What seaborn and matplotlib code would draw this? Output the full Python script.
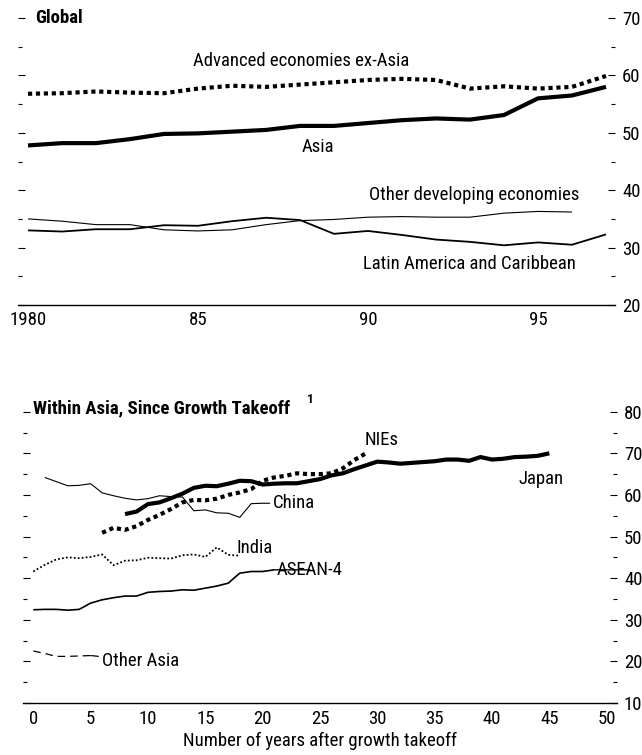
import matplotlib
matplotlib.use("Agg")
import matplotlib.pyplot as plt
import seaborn as sns
import pandas as pd
from matplotlib.ticker import MultipleLocator, FixedLocator, FixedFormatter

# ---------------- data: Global panel ----------------
years = list(range(1980, 1998))
advanced_ex_asia = [56.8, 56.9, 57.2, 57.0, 56.9, 57.7, 58.2, 58.0, 58.4, 58.8,
                    59.2, 59.4, 59.2, 57.7, 58.1, 57.7, 58.0, 59.9]
asia = [47.8, 48.2, 48.2, 48.9, 49.8, 49.9, 50.2, 50.5, 51.2, 51.2,
        51.7, 52.2, 52.5, 52.3, 53.1, 56.0, 56.5, 58.0]
other_dev_years = list(range(1980, 1997))
other_developing = [35.0, 34.6, 34.0, 34.0, 33.1, 32.9, 33.1, 34.0, 34.7, 34.9,
                    35.3, 35.4, 35.3, 35.3, 36.0, 36.3, 36.2]
latin_america = [33.0, 32.8, 33.2, 33.2, 33.9, 33.8, 34.6, 35.2, 34.8, 32.4,
                 32.9, 32.2, 31.4, 31.0, 30.4, 30.9, 30.5, 32.3]
top_xticks = [1980, 1985, 1990, 1995]
top_xticklabels = ["1980", "85", "90", "95"]

# ---------------- data: Within Asia panel ----------------
japan_t = list(range(8, 46))
japan = [55.4, 56.0, 57.8, 58.2, 59.2, 60.3, 61.7, 62.2, 62.1, 62.7,
         63.4, 63.3, 62.5, 62.7, 62.8, 62.8, 63.3, 63.8, 64.7, 65.2,
         66.2, 67.1, 68.0, 67.8, 67.5, 67.7, 67.9, 68.1, 68.5, 68.5,
         68.2, 69.1, 68.5, 68.7, 69.1, 69.2, 69.4, 70.0]
nies_t = list(range(6, 30))
nies = [50.9, 52.1, 51.6, 52.5, 54.0, 55.2, 56.6, 58.2, 58.8, 58.7,
        59.1, 60.0, 60.6, 61.4, 63.4, 64.2, 64.6, 65.2, 65.0, 65.0,
        65.2, 66.4, 68.4, 70.0]
china_t = list(range(1, 21))
china = [64.2, 63.2, 62.2, 62.3, 62.7, 60.5, 59.8, 59.2, 58.8, 59.1,
         59.8, 59.6, 59.5, 56.2, 56.4, 55.7, 55.6, 54.6, 57.9, 58.0]
india_t = list(range(0, 19))
india = [41.6, 43.2, 44.5, 45.0, 44.8, 45.1, 45.7, 43.1, 44.2, 44.3,
         44.9, 44.8, 44.7, 45.5, 45.7, 45.1, 47.4, 45.6, 45.4]
asean_t = list(range(0, 22))
asean4 = [32.4, 32.5, 32.5, 32.3, 32.5, 34.0, 34.8, 35.3, 35.7, 35.7,
          36.6, 36.8, 36.9, 37.2, 37.1, 37.6, 38.1, 38.8, 41.2, 41.6,
          41.6, 42.0]
other_asia_t = list(range(0, 6))
other_asia = [22.5, 21.9, 21.2, 21.2, 21.3, 21.4]

# ---------------- style ----------------
sns.set_theme(style="white")
plt.rcParams["font.family"] = ["Roboto Condensed", "Archivo Narrow", "DejaVu Sans"]
plt.rcParams["text.color"] = "black"
plt.rcParams["axes.labelcolor"] = "black"
plt.rcParams["xtick.color"] = "black"
plt.rcParams["ytick.color"] = "black"
FS = 13.5

fig = plt.figure(figsize=(6.42, 7.55), dpi=100)
ax1 = fig.add_axes([18 / 642, 1 - 305 / 755, 597 / 642, 287 / 755])
ax2 = fig.add_axes([23 / 642, 1 - 703 / 755, 594 / 642, 291.3 / 755])


def style_axes(ax):
    for s in ["left", "right", "top"]:
        ax.spines[s].set_visible(False)
    ax.spines["bottom"].set_color("black")
    ax.spines["bottom"].set_linewidth(1.0)
    ax.tick_params(axis="both", which="both", direction="in", color="black",
                   labelcolor="black", labelsize=FS, width=0.8)
    ax.tick_params(axis="y", which="both", left=True, right=True,
                   labelleft=False, labelright=True, pad=5)
    ax.tick_params(axis="y", which="major", length=5)
    ax.tick_params(axis="y", which="minor", length=3)
    ax.tick_params(axis="x", which="major", length=5, pad=4.5)
    ax.tick_params(axis="x", which="minor", length=3)
    ax.set_facecolor("white")
    ax.grid(False)
    ax.set_xlabel("")
    ax.set_ylabel("")


def line(ax, x, y, lw, dashes=None):
    df = pd.DataFrame({"x": x, "y": y})
    sns.lineplot(data=df, x="x", y="y", ax=ax, color="black", linewidth=lw,
                 legend=False)
    ln = ax.lines[-1]
    if dashes is not None:
        ln.set_dashes(dashes)
        ln.set_dash_capstyle("butt")
    ln.set_solid_capstyle("butt")
    return ln


# ---------------- top panel ----------------
line(ax1, years, advanced_ex_asia, 3.0, dashes=(1.0, 0.9))
line(ax1, years, asia, 3.0)
line(ax1, other_dev_years, other_developing, 0.8)
line(ax1, years, latin_america, 1.3)

ax1.set_xlim(1979.706, 1997.265)
ax1.set_ylim(20, 70)
ax1.yaxis.set_major_locator(MultipleLocator(10))
ax1.yaxis.set_minor_locator(MultipleLocator(5))
ax1.xaxis.set_major_locator(FixedLocator(top_xticks))
ax1.xaxis.set_major_formatter(FixedFormatter(top_xticklabels))
ax1.xaxis.set_minor_locator(MultipleLocator(1))
style_axes(ax1)

ax1.text(0.028, 1.0, "Global", transform=ax1.transAxes, ha="left", va="center",
         fontsize=FS, fontweight="bold")
ax1.text(1984.85, 62.5, "Advanced economies ex-Asia", ha="left", va="center", fontsize=FS)
ax1.text(1988.06, 47.5, "Asia", ha="left", va="center", fontsize=FS)
ax1.text(1990.03, 39.1, "Other developing economies", ha="left", va="center", fontsize=FS)
ax1.text(1989.85, 27.2, "Latin America and Caribbean", ha="left", va="center", fontsize=FS)

# ---------------- bottom panel ----------------
line(ax2, japan_t, japan, 3.0)
line(ax2, nies_t, nies, 3.0, dashes=(1.0, 0.9))
line(ax2, china_t, china, 0.8)
line(ax2, india_t, india, 1.3, dashes=(1.0, 1.2))
line(ax2, asean_t, asean4, 1.2)
line(ax2, other_asia_t, other_asia, 0.9, dashes=(6, 4))

ax2.set_xlim(-0.9, 50.9)
ax2.set_ylim(10, 80)
ax2.yaxis.set_major_locator(MultipleLocator(10))
ax2.yaxis.set_minor_locator(MultipleLocator(5))
ax2.xaxis.set_major_locator(MultipleLocator(5))
ax2.xaxis.set_minor_locator(MultipleLocator(1))
style_axes(ax2)
ax2.tick_params(axis="x", which="major", pad=5)

title = ax2.text(0.017, 1.01, "Within Asia, Since Growth Takeoff", transform=ax2.transAxes,
                 ha="left", va="center", fontsize=FS, fontweight="bold")
ax2.annotate("1", xy=(1, 1), xycoords=title, xytext=(12, 0), textcoords="offset points",
             ha="left", va="center", fontsize=9.5, fontweight="bold")

ax2.text(28.9, 73.2, "NIEs", ha="left", va="center", fontsize=FS)
ax2.text(42.3, 63.8, "Japan", ha="left", va="center", fontsize=FS)
ax2.annotate("China", xy=(china_t[-1], china[-1]), xytext=(20.9, china[-1]),
             ha="left", va="center", fontsize=FS,
             arrowprops=dict(arrowstyle="-", lw=0.8, color="black",
                             shrinkA=0, shrinkB=0))
ax2.text(17.7, 47.2, "India", ha="left", va="center", fontsize=FS)
ax2.annotate("ASEAN-4", xy=(asean_t[-1], asean4[-1]), xytext=(21.25, asean4[-1]),
             ha="left", va="center", fontsize=FS,
             arrowprops=dict(arrowstyle="-", lw=1.0, color="black",
                             shrinkA=0, shrinkB=0))
ax2.annotate("Other Asia", xy=(other_asia_t[-1], other_asia[-1]), xytext=(5.95, 20.2),
             ha="left", va="center", fontsize=FS,
             arrowprops=dict(arrowstyle="-", lw=0.9, color="black", linestyle=(0, (6, 4)),
                             shrinkA=0, shrinkB=0))
ax2.set_xlabel("Number of years after growth takeoff", fontsize=FS, labelpad=3)

fig.savefig("out.png", dpi=100, facecolor="white")
